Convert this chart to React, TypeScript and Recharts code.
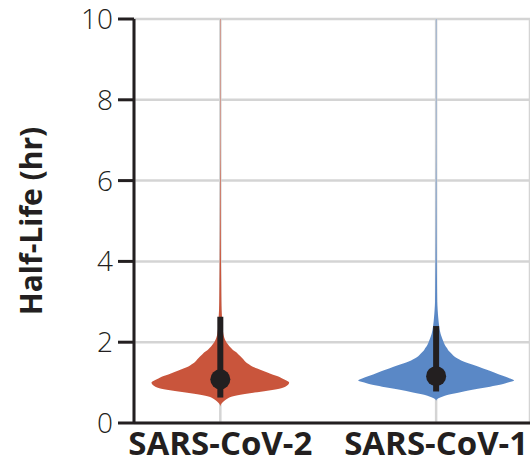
import {
  ComposedChart,
  Area,
  Line,
  Scatter,
  XAxis,
  YAxis,
  CartesianGrid,
  Label,
} from "recharts";

// half-life grid (hr) on which the violin densities are sampled
const halfLife = [
  0.4, 0.45, 0.5, 0.55, 0.6, 0.65, 0.7, 0.75, 0.8, 0.85, 0.9, 0.95, 1.0, 1.05,
  1.1, 1.15, 1.2, 1.25, 1.3, 1.35, 1.4, 1.45, 1.5, 1.55, 1.6, 1.65, 1.7, 1.75,
  1.8, 1.85, 1.9, 1.95, 2.0, 2.2, 2.4, 2.6, 2.8, 3.0, 3.5, 4, 5, 6, 7, 8, 9, 10,
];

// violin half-widths (in category units)
const cov2Width = [
  0, 0.002, 0.009, 0.019, 0.032, 0.051, 0.093, 0.153, 0.218, 0.273, 0.301,
  0.315, 0.319, 0.306, 0.287, 0.269, 0.241, 0.218, 0.194, 0.171, 0.148, 0.134,
  0.12, 0.111, 0.102, 0.093, 0.083, 0.074, 0.06, 0.051, 0.042, 0.035, 0.028,
  0.014, 0.01, 0.008, 0.006, 0.005, 0.004, 0.003, 0.002, 0.0015, 0.001, 0.001,
  0.001, 0.001,
];
const cov1Width = [
  0, 0, 0, 0, 0.007, 0.028, 0.056, 0.102, 0.144, 0.194, 0.25, 0.301, 0.333,
  0.361, 0.343, 0.319, 0.292, 0.269, 0.245, 0.218, 0.194, 0.167, 0.139, 0.116,
  0.097, 0.083, 0.074, 0.065, 0.056, 0.051, 0.044, 0.039, 0.035, 0.021, 0.014,
  0.01, 0.007, 0.005, 0.004, 0.003, 0.002, 0.0015, 0.001, 0.001, 0.001, 0.001,
];

const categories = ["SARS-CoV-2", "SARS-CoV-1"];
const medians = [1.08, 1.16];
const intervalLow = [0.63, 0.78];
const intervalHigh = [2.63, 2.4];
const yTicks = [0, 2, 4, 6, 8, 10];

const RED = "#c9553c";
const BLUE = "#5a88c6";
const INK = "#231f20";

const violinData = halfLife.map((h, i) => ({
  h,
  cov2: [1 - cov2Width[i], 1 + cov2Width[i]],
  cov1: [2 - cov1Width[i], 2 + cov1Width[i]],
}));

const intervals = categories.map((_, i) => [
  { h: intervalLow[i], pos: i + 1 },
  { h: intervalHigh[i], pos: i + 1 },
]);

const medianPoints = medians.map((h, i) => ({ h, pos: i + 1 }));

const YLabel = ({ viewBox }: any) => {
  const cx = viewBox.x + 6;
  const cy = viewBox.y + viewBox.height / 2;
  return (
    <text
      x={cx}
      y={cy}
      transform={`rotate(-90, ${cx}, ${cy})`}
      textAnchor="middle"
      dominantBaseline="central"
      fontFamily="'Open Sans', sans-serif"
      fontWeight={700}
      fontSize={30}
      fill={INK}
    >
      Half-Life (hr)
    </text>
  );
};

export default function App() {
  return (
    <div style={{ position: "absolute", left: 0, top: 0, background: "#fff" }}>
      <ComposedChart
        width={530}
        height={472}
        layout="vertical"
        data={violinData}
        margin={{ top: 19, right: 0, left: 24, bottom: 0 }}
      >
        <CartesianGrid stroke="#d4d4d4" strokeWidth={2.5} />
        <XAxis
          type="number"
          dataKey="pos"
          domain={[0.6, 2.435]}
          ticks={[1, 2]}
          allowDataOverflow
          tickFormatter={(v: number) => categories[v - 1]}
          tickLine={false}
          tickSize={0}
          tickMargin={9}
          height={49}
          axisLine={{ stroke: INK, strokeWidth: 3 }}
          tick={{
            fill: INK,
            fontSize: 33,
            fontWeight: 700,
            fontFamily: "'Open Sans', sans-serif",
          }}
        />
        <YAxis
          type="number"
          dataKey="h"
          domain={[0, 10]}
          ticks={yTicks}
          reversed
          allowDataOverflow
          width={110}
          tickSize={16}
          tickMargin={5}
          axisLine={{ stroke: INK, strokeWidth: 3 }}
          tickLine={{ stroke: INK, strokeWidth: 3 }}
          tick={{
            fill: INK,
            fontSize: 28,
            fontWeight: 300,
            fontFamily: "'Open Sans', sans-serif",
          }}
        >
          <Label content={YLabel} />
        </YAxis>
        <Area
          type="monotone"
          dataKey="cov2"
          fill={RED}
          fillOpacity={1}
          stroke="none"
          isAnimationActive={false}
        />
        <Area
          type="monotone"
          dataKey="cov1"
          fill={BLUE}
          fillOpacity={1}
          stroke="none"
          isAnimationActive={false}
        />
        {intervals.map((d, i) => (
          <Line
            key={i}
            data={d}
            dataKey="pos"
            stroke={INK}
            strokeWidth={6}
            dot={false}
            activeDot={false}
            isAnimationActive={false}
          />
        ))}
        <Scatter
          data={medianPoints}
          fill={INK}
          isAnimationActive={false}
          shape={(p: any) => <circle cx={p.cx} cy={p.cy} r={10} fill={INK} />}
        />
      </ComposedChart>
    </div>
  );
}
